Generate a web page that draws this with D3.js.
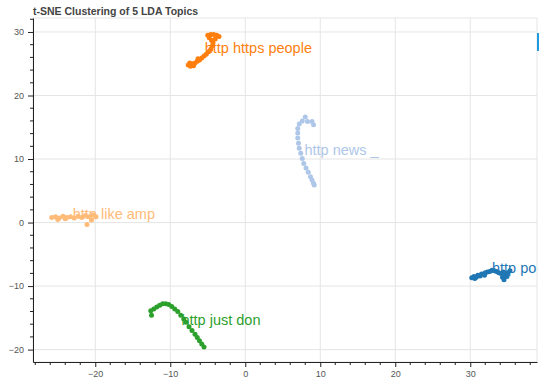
<!DOCTYPE html>
<html>
<head>
<meta charset="utf-8">
<script src="https://cdn.jsdelivr.net/npm/d3@7"></script>
<style>
  body { margin: 0; background: white; }
  svg { font-family: "Liberation Sans", Arial, Helvetica, sans-serif; }
</style>
</head>
<body>
<svg></svg>
<script>
const w = 550
const h = 384

// topics, label text and where the label sits (data units)
const topicNames = ["http https people", "http news _", "http like amp", "http just don", "http po"]
const topicColors = ["#ff7f0e", "#aec7e8", "#ffbb78", "#2ca02c", "#1f77b4"]
const labelX = [-5.4, 7.9, -23.0, -8.5, 32.9]
const labelY = [27.5, 11.4, 1.4, -15.3, -7.1]

// t-SNE points per topic
const pointsPeople = [
  [-7.6, 24.8], [-7.3, 24.6], [-7.0, 25.0], [-6.7, 25.1], [-6.4, 25.4], [-6.1, 25.6],
  [-5.8, 25.9], [-5.5, 26.2], [-5.2, 26.5], [-4.9, 26.9], [-4.6, 27.3], [-4.4, 27.8],
  [-4.3, 28.3], [-4.5, 28.7], [-4.8, 29.1], [-5.0, 29.5], [-4.6, 29.6], [-4.2, 29.6],
  [-3.8, 29.5], [-3.5, 29.3], [-4.0, 28.9], [-6.9, 24.7], [-7.4, 25.1], [-6.3, 25.8]
]
const pointsNews = [
  [8.0, 16.6], [7.6, 16.0], [7.2, 15.5], [7.0, 14.8], [7.0, 14.1], [7.0, 13.3],
  [7.1, 12.5], [7.2, 11.7], [7.4, 10.9], [7.6, 10.1], [7.8, 9.3], [8.1, 8.6],
  [8.4, 7.9], [8.7, 7.2], [8.9, 6.7], [9.1, 6.2], [9.2, 5.9], [8.9, 15.9],
  [9.1, 15.4], [8.3, 15.9]
]
const pointsLike = [
  [-25.8, 0.8], [-25.3, 0.9], [-24.8, 0.7], [-24.3, 1.0], [-23.8, 0.8], [-23.3, 0.9],
  [-22.8, 0.7], [-22.3, 1.0], [-21.8, 0.8], [-21.3, 1.1], [-20.8, 0.9], [-20.3, 1.2],
  [-19.9, 0.9], [-21.1, -0.3], [-20.5, 0.4], [-25.0, 0.5], [-24.0, 0.6]
]
const pointsJust = [
  [-12.5, -14.6], [-12.6, -13.9], [-12.2, -13.6], [-11.8, -13.3], [-11.4, -13.0],
  [-11.0, -12.8], [-10.6, -12.8], [-10.2, -12.9], [-9.8, -13.2], [-9.4, -13.6],
  [-9.0, -14.0], [-8.6, -14.6], [-8.2, -15.2], [-7.9, -15.7], [-7.5, -16.4],
  [-7.1, -17.0], [-6.7, -17.6], [-6.4, -18.1], [-6.1, -18.6], [-5.8, -19.1], [-5.5, -19.6]
]
const pointsPo = [
  [30.2, -8.7], [30.5, -8.5], [30.8, -8.6], [31.0, -8.3], [31.3, -8.4], [31.5, -8.1],
  [31.8, -8.1], [32.0, -7.9], [32.3, -7.8], [32.6, -7.7], [32.9, -7.5], [33.2, -7.6],
  [33.5, -7.7], [33.8, -7.9], [34.1, -8.0], [34.4, -7.8], [34.7, -8.2], [35.0, -7.9],
  [35.3, -7.6], [34.3, -8.6], [34.5, -9.0], [34.9, -8.5], [30.6, -8.8], [31.9, -8.3]
]
const topicPoints = [pointsPeople, pointsNews, pointsLike, pointsJust, pointsPo]

const xTicks = [-20, -10, 0, 10, 20, 30]
const yTicks = [-20, -10, 0, 10, 20, 30]

const svg = d3.select("svg").attr("width", w).attr("height", h)

const plotLeft = 33
const plotRight = 537
const plotTop = 18
const plotBottom = 362

const xScale = d3.scaleLinear().domain([-28.3, 38.9]).range([plotLeft, plotRight])
const yScale = d3.scaleLinear().domain([-21.95, 32.2]).range([plotBottom, plotTop])

// title
svg
  .append("text")
  .attr("x", plotLeft)
  .attr("y", 15)
  .attr("font-size", 10.5)
  .attr("font-weight", "bold")
  .attr("fill", "#444")
  .text("t-SNE Clustering of 5 LDA Topics")

// frame + grid
svg
  .append("rect")
  .attr("x", plotLeft)
  .attr("y", plotTop)
  .attr("width", plotRight - plotLeft)
  .attr("height", plotBottom - plotTop)
  .attr("fill", "none")
  .attr("stroke", "#e5e5e5")

svg
  .append("g")
  .selectAll("line")
  .data(xTicks)
  .enter()
  .append("line")
  .attr("x1", (d) => xScale(d))
  .attr("x2", (d) => xScale(d))
  .attr("y1", plotTop)
  .attr("y2", plotBottom)
  .attr("stroke", "#e5e5e5")

svg
  .append("g")
  .selectAll("line")
  .data(yTicks)
  .enter()
  .append("line")
  .attr("x1", plotLeft)
  .attr("x2", plotRight)
  .attr("y1", (d) => yScale(d))
  .attr("y2", (d) => yScale(d))
  .attr("stroke", "#e5e5e5")

// minor ticks every 2 units
const xMinor = d3.range(-28, 39, 2).filter((d) => d % 10 !== 0)
const yMinor = d3.range(-20, 33, 2).filter((d) => d % 10 !== 0)

const xAxis = d3.axisBottom(xScale).tickValues(xTicks).tickSize(5).tickPadding(4)
const yAxis = d3.axisLeft(yScale).tickValues(yTicks).tickSize(5).tickPadding(4)

const styleAxis = (g) => {
  g.selectAll(".domain").attr("stroke", "#222")
  g.selectAll(".tick line").attr("stroke", "#222")
  g.selectAll(".tick text")
    .attr("fill", "#555")
    .attr("font-size", 9)
    .attr("font-family", "Liberation Sans, Arial, sans-serif")
}

svg
  .append("g")
  .attr("transform", `translate(0,${plotBottom})`)
  .call(xAxis.tickSizeOuter(0))
  .call(styleAxis)

svg
  .append("g")
  .attr("transform", `translate(${plotLeft},0)`)
  .call(yAxis.tickSizeOuter(0))
  .call(styleAxis)

svg
  .append("g")
  .selectAll("line")
  .data(xMinor)
  .enter()
  .append("line")
  .attr("x1", (d) => xScale(d))
  .attr("x2", (d) => xScale(d))
  .attr("y1", plotBottom)
  .attr("y2", plotBottom + 3)
  .attr("stroke", "#222")

svg
  .append("g")
  .selectAll("line")
  .data(yMinor)
  .enter()
  .append("line")
  .attr("x1", plotLeft - 3)
  .attr("x2", plotLeft)
  .attr("y1", (d) => yScale(d))
  .attr("y2", (d) => yScale(d))
  .attr("stroke", "#222")

// clusters
svg
  .append("clipPath")
  .attr("id", "plot-clip")
  .append("rect")
  .attr("x", plotLeft)
  .attr("y", plotTop)
  .attr("width", plotRight - plotLeft)
  .attr("height", plotBottom - plotTop)

const plot = svg.append("g").attr("clip-path", "url(#plot-clip)")

topicPoints.forEach((pts, i) => {
  plot
    .append("g")
    .selectAll("circle")
    .data(pts)
    .enter()
    .append("circle")
    .attr("cx", (d) => xScale(d[0]))
    .attr("cy", (d) => yScale(d[1]))
    .attr("r", 2.5)
    .attr("fill", topicColors[i])
})

plot
  .selectAll(".topic-label")
  .data(topicNames)
  .enter()
  .append("text")
  .attr("class", "topic-label")
  .attr("x", (d, i) => xScale(labelX[i]))
  .attr("y", (d, i) => yScale(labelY[i]))
  .attr("dy", "0.35em")
  .attr("font-size", 14.5)
  .attr("fill", (d, i) => topicColors[i])
  .text((d) => d)

// toolbar stub on the right edge
svg
  .append("rect")
  .attr("x", plotRight)
  .attr("y", 33)
  .attr("width", 2)
  .attr("height", 18)
  .attr("fill", "#1f9bde")
</script>
</body>
</html>
